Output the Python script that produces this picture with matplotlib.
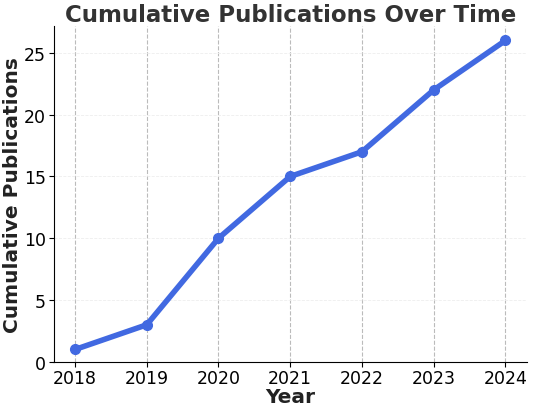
import matplotlib
matplotlib.use("Agg")
import matplotlib.pyplot as plt

years = [2018, 2019, 2020, 2021, 2022, 2023, 2024]
cumulative = [1, 3, 10, 15, 17, 22, 26]

fig, ax = plt.subplots(figsize=(5.35, 4.10), dpi=100)
ax.plot(years, cumulative, color='#4169E1', linewidth=4, marker='o', markersize=7)
ax.set_title('Cumulative Publications Over Time', fontsize=16.5, fontweight='bold', color='#333333', pad=2)
ax.set_xlabel('Year', fontsize=14.5, fontweight='bold', color='#222222', labelpad=0)
ax.set_ylabel('Cumulative Publications', fontsize=14.5, fontweight='bold', color='#222222', labelpad=1)
ax.set_xticks(years)
ax.tick_params(labelsize=12.5, pad=2)
ax.set_ylim(0, 27.2)
ax.set_yticks([0, 5, 10, 15, 20, 25])
ax.grid(axis='x', linestyle='--', color='#bbbbbb', linewidth=0.8)
ax.grid(axis='y', linestyle='--', color='#eeeeee', linewidth=0.6)
for s in ['top', 'right']:
    ax.spines[s].set_visible(False)
fig.subplots_adjust(left=0.1, right=0.985, top=0.935, bottom=0.115)
fig.savefig('out.png')
